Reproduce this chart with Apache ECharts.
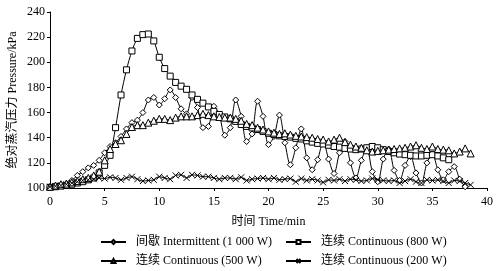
<!DOCTYPE html>
<html>
<head>
<meta charset="utf-8">
<script src="https://cdn.jsdelivr.net/npm/echarts@6/dist/echarts.min.js"></script>
<style>
  html, body { margin: 0; padding: 0; background: #fff; }
  #chart { width: 496px; height: 271px; }
</style>
</head>
<body>
<div id="chart"></div>
<script>
// time in minutes, sampled every 0.5 min
var times = [0,0.5,1,1.5,2,2.5,3,3.5,4,4.5,5,5.5,6,6.5,7,7.5,8,8.5,9,9.5,10,10.5,11,11.5,12,12.5,13,13.5,14,14.5,15,15.5,16,16.5,17,17.5,18,18.5,19,19.5,20,20.5,21,21.5,22,22.5,23,23.5,24,24.5,25,25.5,26,26.5,27,27.5,28,28.5,29,29.5,30,30.5,31,31.5,32,32.5,33,33.5,34,34.5,35,35.5,36,36.5,37,37.5,38,38.5];

var intermittent1000 = [100.5,101,102,103.5,106,110,113,116,118,122,128,133,136,141,147,152,154,160,170,172,166,171,178,172,163,159,172,164,148,149,165,158,142,148,170,157,137,143,169,157,134.5,141,158,136,118.5,132,147,124,114.5,122.5,137,123,111.5,128,137,120,108,122,132,113,105,123,131,114,106,118,125,112,104,120,127,114.5,106.5,113,117,107,101];
var continuous800 = [100.5,101,101.5,102,103,104,105,106.5,108,112,118,126,148,174,194,209,219,222,222.5,217,204,195,189,184,181,178.5,174,170.5,167.5,164.5,161,158.5,156.5,155,153,150.5,149,147.8,146.5,145,143.5,142.5,141.5,141,140.5,139.5,139,137.5,136.5,135.5,135,134,133,132.5,131.5,131,130.5,131,132,133,132,130.5,129,128,127,126.5,126,125.5,125.5,126,126.5,125.5,124,122.5];
var continuous500 = [101,102,103,103.5,104.5,105.5,107,108,110,113,122,131,135,138,143,148.5,150,150,152,153.5,155,155,154,156,157,157,157,158,159,158,157,156.5,156,156,155,153.5,151,150,148,146.5,145,144,143,143.5,142.5,141.5,141,140.5,140,139,138.5,137,138.5,140,136.5,134.5,133,132,130,129,129.5,130,130.5,131,131.5,132,133,134,132,131,133,131,130.5,130,127.5,129,131.5,127.5];
var continuous200 = [101,101.5,102,103,104,105,106,106.5,107,108,107.5,108.5,108,106.5,108,109,107,105.5,106,106.5,109,108,107,110,110.5,108,110.5,110,109,109,108,107,108,108,107,108.5,106,107,107.5,108,107,108,106.5,107,107.5,105,107.5,106,107,106,104.5,106.5,106,107,105.5,107,106.5,105.5,106,107.5,106.5,106,105.5,106,104,105.5,107,105,104,106.5,106,106.5,105.5,104,106,105.5,104,102.5];

var xTicks = [0, 40, 5];     // min, max, interval
var yTicks = [100, 240, 20];

var names = ['间歇 Intermittent (1 000 W)', '连续 Continuous (800 W)', '连续 Continuous (500 W)', '连续 Continuous (200 W)'];

function pairs(vals) {
    var out = [];
    for (var i = 0; i < vals.length; i++) out.push([times[i], vals[i]]);
    return out;
}

var font = '"Liberation Serif", "Noto Sans CJK SC", serif';
var crossPath = 'path://M0,0L10,10M10,0L0,10';

function mkSeries(name, vals, symbol, size) {
    return {
        name: name,
        type: 'line',
        data: pairs(vals),
        smooth: 0.3,
        symbol: symbol,
        symbolSize: size,
        showAllSymbol: true,
        lineStyle: { color: '#000', width: 1 },
        itemStyle: { color: '#fff', borderColor: '#000', borderWidth: 1 },
        emphasis: { disabled: true },
        animation: false
    };
}

function mkLegend(name, left, top) {
    return {
        data: [name],
        left: left,
        top: top,
        padding: 0,
        itemWidth: 25,
        itemHeight: 5,
        itemGap: 0,
        textStyle: { fontFamily: font, fontSize: 12, color: '#000', padding: [0, 0, 0, 5] }
    };
}

var chart = echarts.init(document.getElementById('chart'));
chart.setOption({
    backgroundColor: '#fff',
    animation: false,
    grid: { left: 50, right: 9, top: 12, bottom: 83, outerBoundsMode: 'none' },
    legend: [
        mkLegend(names[0], 100, 236),
        mkLegend(names[1], 285, 236),
        mkLegend(names[2], 100, 255),
        mkLegend(names[3], 285, 255)
    ],
    xAxis: {
        type: 'value',
        min: xTicks[0], max: xTicks[1], interval: xTicks[2],
        name: '时间 Time/min',
        nameLocation: 'middle',
        nameGap: 28,
        nameMoveOverlap: false,
        nameTextStyle: { fontFamily: font, fontSize: 12, color: '#000' },
        axisLine: { lineStyle: { color: '#000', width: 1 } },
        axisTick: { show: true, length: 3, lineStyle: { color: '#000' } },
        axisLabel: { fontFamily: font, fontSize: 12, color: '#000', margin: 8 },
        splitLine: { show: false }
    },
    yAxis: {
        type: 'value',
        min: yTicks[0], max: yTicks[1], interval: yTicks[2],
        name: '绝对蒸汽压力 Pressure/kPa',
        nameLocation: 'middle',
        nameGap: 31,
        nameMoveOverlap: false,
        nameTextStyle: { fontFamily: font, fontSize: 12, color: '#000' },
        axisLine: { show: true, lineStyle: { color: '#000', width: 1 } },
        axisTick: { show: true, length: 3, lineStyle: { color: '#000' } },
        axisLabel: { fontFamily: font, fontSize: 12, color: '#000', margin: 5 },
        splitLine: { show: false }
    },
    series: [
        mkSeries(names[0], intermittent1000, 'diamond', 6),
        mkSeries(names[1], continuous800, 'rect', 6),
        mkSeries(names[2], continuous500, 'triangle', 7),
        mkSeries(names[3], continuous200, crossPath, 6)
    ]
});
</script>
</body>
</html>
